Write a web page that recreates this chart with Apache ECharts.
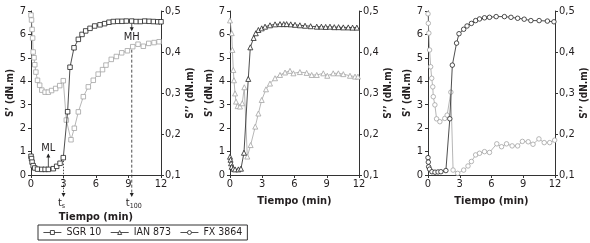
<!DOCTYPE html>
<html>
<head>
<meta charset="utf-8">
<script src="https://cdn.jsdelivr.net/npm/echarts@6/dist/echarts.min.js"></script>
<style>
html, body { margin: 0; padding: 0; background: #fff; }
#main { width: 590px; height: 243px; }
</style>
</head>
<body>
<div id="main"></div>
<script>
// S' (black) and S'' (grey) curves, time in min
var sgrSpTime  = [0, 0.05, 0.1, 0.2, 0.35, 0.6, 1.0, 1.3, 1.6, 2.06, 2.37, 2.68, 2.98, 3.38, 3.6, 3.97, 4.37, 4.71, 5.05, 5.45, 5.88, 6.37, 6.8, 7.2, 7.6, 8.0, 8.4, 8.8, 9.3, 9.7, 10.1, 10.5, 10.9, 11.3, 11.7, 12.0];
var sgrSp      = [0.8, 0.7, 0.55, 0.4, 0.3, 0.25, 0.24, 0.24, 0.24, 0.27, 0.37, 0.5, 0.74, 2.7, 4.6, 5.43, 5.79, 6.0, 6.15, 6.26, 6.36, 6.41, 6.46, 6.52, 6.55, 6.56, 6.56, 6.57, 6.57, 6.55, 6.55, 6.57, 6.56, 6.55, 6.54, 6.54];
var sgrSppTime = [0, 0.05, 0.1, 0.15, 0.2, 0.28, 0.35, 0.45, 0.6, 0.8, 1.0, 1.3, 1.6, 1.9, 2.28, 2.65, 2.98, 3.26, 3.69, 4.0, 4.37, 4.83, 5.29, 5.75, 6.2, 6.6, 6.92, 7.41, 7.88, 8.37, 8.9, 9.39, 9.88, 10.37, 10.87, 11.36, 11.82];
var sgrSpp     = [0.49, 0.478, 0.455, 0.434, 0.40, 0.386, 0.369, 0.351, 0.331, 0.319, 0.307, 0.302, 0.302, 0.306, 0.311, 0.318, 0.330, 0.234, 0.186, 0.214, 0.254, 0.291, 0.315, 0.331, 0.346, 0.357, 0.368, 0.382, 0.389, 0.398, 0.403, 0.413, 0.419, 0.414, 0.421, 0.423, 0.425];

var ianSpTime  = [0, 0.05, 0.1, 0.16, 0.3, 0.47, 0.78, 1.02, 1.3, 1.7, 1.89, 2.2, 2.4, 2.64, 2.95, 3.26, 3.72, 4.19, 4.65, 5.0, 5.27, 5.65, 6.05, 6.5, 6.98, 7.5, 8.07, 8.5, 8.9, 9.3, 9.7, 10.1, 10.54, 11.0, 11.4, 11.8];
var ianSp      = [0.78, 0.65, 0.5, 0.35, 0.27, 0.24, 0.24, 0.27, 0.95, 4.1, 5.45, 5.85, 6.05, 6.19, 6.26, 6.33, 6.39, 6.43, 6.44, 6.44, 6.44, 6.43, 6.41, 6.39, 6.37, 6.35, 6.33, 6.33, 6.32, 6.33, 6.31, 6.31, 6.3, 6.3, 6.29, 6.29];
var ianSppTime = [0, 0.16, 0.22, 0.31, 0.37, 0.47, 0.56, 0.71, 0.93, 1.14, 1.33, 1.61, 1.92, 2.35, 2.64, 2.95, 3.35, 3.72, 4.19, 4.65, 5.12, 5.58, 5.9, 6.5, 7.13, 7.6, 8.07, 8.68, 9.05, 9.6, 10.08, 10.54, 11.16, 11.63, 11.9];
var ianSpp     = [0.477, 0.446, 0.405, 0.356, 0.331, 0.299, 0.279, 0.268, 0.267, 0.275, 0.314, 0.145, 0.173, 0.218, 0.250, 0.283, 0.309, 0.323, 0.336, 0.344, 0.350, 0.354, 0.348, 0.351, 0.349, 0.344, 0.344, 0.348, 0.342, 0.348, 0.348, 0.346, 0.342, 0.340, 0.340];

var fxSpTime   = [0, 0.03, 0.06, 0.15, 0.37, 0.66, 0.95, 1.22, 1.69, 2.06, 2.3, 2.7, 2.93, 3.37, 3.69, 4.1, 4.5, 4.87, 5.34, 5.81, 6.44, 7.22, 7.84, 8.47, 9.09, 9.72, 10.5, 11.28, 11.9];
var fxSp       = [0.74, 0.55, 0.35, 0.25, 0.14, 0.12, 0.13, 0.14, 0.19, 2.4, 4.69, 5.63, 6.03, 6.22, 6.36, 6.47, 6.59, 6.66, 6.71, 6.73, 6.76, 6.76, 6.73, 6.69, 6.65, 6.59, 6.59, 6.57, 6.54];
var fxSppTime  = [0, 0.03, 0.08, 0.15, 0.25, 0.35, 0.45, 0.5, 0.65, 0.81, 1.12, 1.59, 1.81, 2.16, 2.37, 2.8, 3.37, 3.78, 4.1, 4.5, 4.87, 5.34, 5.81, 6.5, 6.95, 7.42, 7.95, 8.47, 8.92, 9.47, 9.92, 10.48, 10.98, 11.5, 11.97];
var fxSpp      = [0.493, 0.470, 0.446, 0.405, 0.364, 0.336, 0.315, 0.291, 0.271, 0.237, 0.230, 0.238, 0.246, 0.302, 0.112, 0.104, 0.112, 0.122, 0.133, 0.149, 0.153, 0.157, 0.155, 0.176, 0.169, 0.176, 0.171, 0.171, 0.182, 0.181, 0.175, 0.188, 0.179, 0.179, 0.185];

var compounds = ['SGR 10', 'IAN 873', 'FX 3864'];
var symbols = ['rect', 'triangle', 'circle'];

var font = "'DejaVu Sans Condensed', 'Liberation Sans Narrow', Roboto, sans-serif";
var ink = '#231f20';
var grey = '#a3a3a3';

function zip(t, v) {
    var out = [];
    for (var i = 0; i < t.length; i++) out.push([t[i], v[i]]);
    return out;
}

var gridPos = [{left: 31, width: 130}, {left: 230, width: 129}, {left: 428, width: 128}];
var grids = [], xAxes = [], yAxes = [], series = [];

var spData = [zip(sgrSpTime, sgrSp), zip(ianSpTime, ianSp), zip(fxSpTime, fxSp)];
var sppData = [zip(sgrSppTime, sgrSpp), zip(ianSppTime, ianSpp), zip(fxSppTime, fxSpp)];

for (var i = 0; i < 3; i++) {
    grids.push({left: gridPos[i].left, width: gridPos[i].width, top: 11, height: 164});
    xAxes.push({
        type: 'value', gridIndex: i, min: 0, max: 12, interval: 3,
        name: 'Tiempo (min)', nameLocation: 'middle', nameGap: i == 0 ? 37 : 21,
        nameTextStyle: {fontFamily: font, fontWeight: 'bold', fontSize: 11, color: ink},
        axisLine: {lineStyle: {color: '#333', width: 1}},
        axisTick: {length: 3, lineStyle: {color: '#333'}},
        axisLabel: {fontFamily: font, fontSize: 11, color: ink, margin: 4},
        splitLine: {show: false}
    });
    yAxes.push({
        type: 'value', gridIndex: i, position: 'left', min: 0, max: 7, interval: 1,
        name: 'S\u2019 (dN.m)', nameLocation: 'middle', nameGap: 16, nameRotate: 90,
        nameTextStyle: {fontFamily: font, fontWeight: 'bold', fontSize: 10, color: ink},
        axisLine: {show: true, lineStyle: {color: '#333', width: 1}},
        axisTick: {show: true, length: 3, lineStyle: {color: '#333'}},
        axisLabel: {fontFamily: font, fontSize: 11, color: ink, margin: 5},
        splitLine: {show: false}
    });
    yAxes.push({
        type: 'value', gridIndex: i, position: 'right', min: 0.1, max: 0.5, interval: 0.1,
        name: 'S\u2019\u2019 (dN.m)', nameLocation: 'middle', nameGap: 24, nameRotate: 90,
        nameTextStyle: {fontFamily: font, fontWeight: 'bold', fontSize: 10, color: ink},
        axisLine: {show: true, lineStyle: {color: '#333', width: 1}},
        axisTick: {show: true, length: 3, lineStyle: {color: '#333'}},
        axisLabel: {
            fontFamily: font, fontSize: 11, color: ink, margin: 4,
            formatter: function (v) { return v.toFixed(1).replace('.', ','); }
        },
        splitLine: {show: false}
    });
    series.push({
        name: compounds[i], type: 'line', xAxisIndex: i, yAxisIndex: 2 * i,
        data: spData[i], symbol: symbols[i], symbolSize: i == 1 ? 5 : 4.5,
        lineStyle: {width: 0.8, color: '#222'},
        itemStyle: {color: '#fff', borderColor: '#222', borderWidth: 0.8}, z: 3
    });
    series.push({
        name: compounds[i] + ' S\u2019\u2019', type: 'line', xAxisIndex: i, yAxisIndex: 2 * i + 1,
        data: sppData[i], symbol: symbols[i], symbolSize: i == 1 ? 5 : 4.5,
        lineStyle: {width: 0.8, color: grey},
        itemStyle: {color: '#fff', borderColor: grey, borderWidth: 0.8}, z: 2
    });
}

var myChart = echarts.init(document.getElementById('main'));
myChart.setOption({
    backgroundColor: '#fff',
    animation: false,
    grid: grids,
    xAxis: xAxes,
    yAxis: yAxes,
    series: series,
    legend: {
        data: compounds,
        left: 38, top: 225,
        orient: 'horizontal',
        itemWidth: 18, itemHeight: 5, itemGap: 9,
        padding: [2, 5],
        borderColor: '#333', borderWidth: 1, borderRadius: 0,
        itemStyle: {color: '#fff', borderColor: '#222', borderWidth: 0.8},
        lineStyle: {color: '#222', width: 0.8},
        textStyle: {fontFamily: font, fontSize: 10.5, color: ink},
        selectedMode: false
    }
});

// annotations of the first panel (ML, MH, ts, t100)
var mlAt = [1.6, 0.24];
var mhAt = [9.3, 6.56];
var tsAt = [3, 0.74];
var t100At = [9.3, 0.413];

function px(p, right) {
    return myChart.convertToPixel({xAxisIndex: 0, yAxisIndex: right ? 1 : 0}, p);
}
function arrowDown(x, y) {
    return {type: 'polygon', shape: {points: [[x - 2, y - 4], [x + 2, y - 4], [x, y]]}, style: {fill: '#222'}};
}
function arrowUp(x, y) {
    return {type: 'polygon', shape: {points: [[x - 2, y + 4], [x + 2, y + 4], [x, y]]}, style: {fill: '#222'}};
}

var ml = px(mlAt), mh = px(mhAt), ts = px(tsAt), t100 = px(t100At, true);
var g = [];
g.push({type: 'line', shape: {x1: ml[0], y1: ml[1] - 2, x2: ml[0], y2: ml[1] - 15}, style: {stroke: '#222', lineWidth: 0.8}});
g.push(arrowUp(ml[0], ml[1] - 16));
g.push({type: 'text', x: ml[0], y: ml[1] - 21, style: {text: 'ML', font: '11px ' + font, fill: ink, align: 'center', verticalAlign: 'middle'}});
g.push({type: 'line', shape: {x1: mh[0], y1: mh[1] + 2, x2: mh[0], y2: mh[1] + 8}, style: {stroke: '#222', lineWidth: 0.8}});
g.push(arrowDown(mh[0], mh[1] + 10));
g.push({type: 'text', x: mh[0], y: mh[1] + 16, style: {text: 'MH', font: '11px ' + font, fill: ink, align: 'center', verticalAlign: 'middle'}});
g.push({type: 'line', shape: {x1: ts[0], y1: ts[1] + 3, x2: ts[0], y2: 195}, style: {stroke: '#222', lineWidth: 0.8, lineDash: [1.5, 1.5]}});
g.push(arrowDown(ts[0], 197));
g.push({type: 'line', shape: {x1: t100[0], y1: t100[1] + 3, x2: t100[0], y2: 195}, style: {stroke: '#222', lineWidth: 0.8, lineDash: [3, 2]}});
g.push(arrowDown(t100[0], 197));
g.push({
    type: 'text', x: ts[0] - 2, y: 203,
    style: {
        text: '{a|t}{b|s}', align: 'center', verticalAlign: 'middle',
        rich: {a: {font: '11px ' + font, fill: ink}, b: {font: '7px ' + font, fill: ink, padding: [6, 0, 0, 0]}}
    }
});
g.push({
    type: 'text', x: t100[0] + 2, y: 203,
    style: {
        text: '{a|t}{b|100}', align: 'center', verticalAlign: 'middle',
        rich: {a: {font: '11px ' + font, fill: ink}, b: {font: '7px ' + font, fill: ink, padding: [6, 0, 0, 0]}}
    }
});
myChart.setOption({graphic: g});
</script>
</body>
</html>
